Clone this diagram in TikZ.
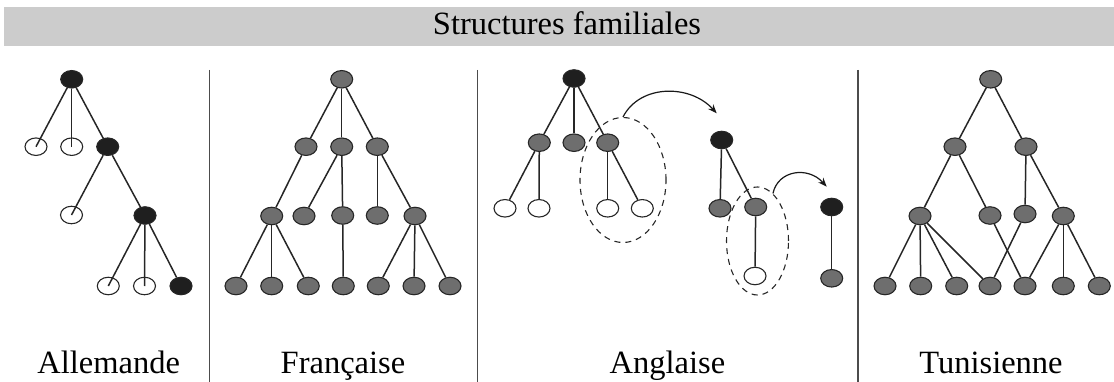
\documentclass[tikz,border=0pt]{standalone}
\usepackage{fontspec}
\setmainfont{Liberation Serif}
\usetikzlibrary{arrows.meta,shapes.geometric}
\begin{document}
\begin{tikzpicture}[x=1pt,y=-1pt,
  nd/.style={ellipse, draw=black!85, line width=1.1pt, minimum width=22pt, minimum height=17.5pt, inner sep=0pt},
  blk/.style={nd, fill=black!88},
  gry/.style={nd, fill=black!57},
  wht/.style={nd, fill=white},
  edge/.style={line width=1.5pt, draw=black!85},
  sep/.style={line width=1.1pt, draw=black!70},
  grp/.style={ellipse, draw=black!85, line width=1.1pt, dash pattern=on 6pt off 5pt, inner sep=0pt},
  arr/.style={line width=1.2pt, draw=black!90, -{Stealth[length=9pt,width=7pt]}},
  lbl/.style={font=\fontsize{32.5}{38}\selectfont, inner sep=0pt, anchor=base}
]
\useasboundingbox (0,0) rectangle (1114,382);
% header
\fill[black!20] (4,7.5) rectangle (1114,46.5);
\node[lbl] (title) at (567,35) {Structures familiales};
% separators
\draw[sep] (209.3,70) -- (209.3,382);
\draw[sep] (477.5,70) -- (477.5,382);
\draw[sep] (858,70) -- (858,382);
% labels
\node[lbl] (lA) at (108.7,373.3) {Allemande};
\node[lbl] (lF) at (343,373.3) {Française};
\node[lbl] (lG) at (667.5,373.3) {Anglaise};
\node[lbl] (lT) at (991,373.3) {Tunisienne};

% ---------- Allemande ----------
\node[blk] (A0) at (71.7,79.3) {};
\node[wht] (A1) at (36,146.7) {};
\node[wht] (A2) at (71.7,146.7) {};
\node[blk] (A3) at (107.7,146.7) {};
\node[wht] (A4) at (71.5,215) {};
\node[blk] (A5) at (145,215.5) {};
\node[wht] (A6) at (108.3,286) {};
\node[wht] (A7) at (144.5,286) {};
\node[blk] (A8) at (181,286) {};
\draw[edge] (A0) -- (A1.center);
\draw[edge] (A0) -- (A2.center);
\draw[edge] (A0) -- (A3);
\draw[edge] (A3) -- (A4.center);
\draw[edge] (A3) -- (A5);
\draw[edge] (A5) -- (A6.center);
\draw[edge] (A5) -- (A7.center);
\draw[edge] (A5) -- (A8);

% ---------- Française ----------
\node[gry] (F0) at (341.7,79.3) {};
\node[gry] (F1) at (306,146.7) {};
\node[gry] (F2) at (341.7,146.7) {};
\node[gry] (F3) at (377.3,146.7) {};
\node[gry] (F4) at (271.7,216) {};
\node[gry] (F5) at (304,216) {};
\node[gry] (F6) at (342.7,215.5) {};
\node[gry] (F7) at (377.3,215.5) {};
\node[gry] (F8) at (415,216) {};
\node[gry] (F9) at (236,286) {};
\node[gry] (F10) at (271.7,286) {};
\node[gry] (F11) at (308.3,286) {};
\node[gry] (F12) at (343.3,286) {};
\node[gry] (F13) at (378.3,286) {};
\node[gry] (F14) at (414,286) {};
\node[gry] (F15) at (450,286) {};
\foreach \a/\b in {F0/F1,F0/F2,F0/F3,F1/F4,F2/F5,F2/F6,F3/F7,F3/F8,F4/F9,F4/F10,F4/F11,F6/F12,F8/F13,F8/F14,F8/F15}
  \draw[edge] (\a) -- (\b);

% ---------- Anglaise ----------
\node[grp, minimum width=86pt, minimum height=125pt] (E1) at (623,180) {};
\node[grp, minimum width=62pt, minimum height=108pt] (E2) at (757.5,241) {};
\node[blk] (G0) at (574,78.5) {};
\node[gry] (G1) at (539.3,142.7) {};
\node[gry] (G2) at (574,142.7) {};
\node[gry] (G3) at (607.7,142.7) {};
\node[wht] (G4) at (505,208.3) {};
\node[wht] (G5) at (539,208.3) {};
\node[wht] (G6) at (607.7,208.3) {};
\node[wht] (G7) at (642.3,208.3) {};
\node[blk] (H0) at (721.7,140) {};
\node[gry] (H1) at (720,208.3) {};
\node[gry] (H2) at (755.7,207) {};
\node[wht] (H3) at (755,276) {};
\node[blk] (K0) at (831.7,207) {};
\node[gry] (K1) at (831.7,278.3) {};
\foreach \a/\b in {G0/G1,G0/G2,G0/G3,G1/G4,G1/G5,G3/G6,G3/G7,H0/H1,H0/H2,H2/H3,K0/K1}
  \draw[edge] (\a) -- (\b);
\coordinate (r1) at (716.7,113.3);
\coordinate (r2) at (826.7,186.7);
\draw[arr] (E1.north) .. controls (640,84) and (690,84) .. (r1);
\draw[arr] (E2.72) .. controls (778,170) and (808,166) .. (r2);

% ---------- Tunisienne ----------
\node[gry] (T0) at (990.7,79.3) {};
\node[gry] (T1) at (955,146.7) {};
\node[gry] (T2) at (1026,146.7) {};
\node[gry] (T3) at (920,216) {};
\node[gry] (T4) at (990,215.5) {};
\node[gry] (T5) at (1025,214) {};
\node[gry] (T6) at (1063.3,216) {};
\node[gry] (T7) at (885,286) {};
\node[gry] (T8) at (920.7,286) {};
\node[gry] (T9) at (956.7,286) {};
\node[gry] (T10) at (990,286) {};
\node[gry] (T11) at (1025,286) {};
\node[gry] (T12) at (1063.3,286) {};
\node[gry] (T13) at (1099.3,286) {};
\foreach \a/\b in {T0/T1,T0/T2,T1/T3,T1/T4,T2/T5,T2/T6,T3/T7,T3/T8,T3/T9,T3/T10,T4/T11,T5/T10,T6/T11,T6/T12,T6/T13}
  \draw[edge] (\a) -- (\b);
\end{tikzpicture}
\end{document}
